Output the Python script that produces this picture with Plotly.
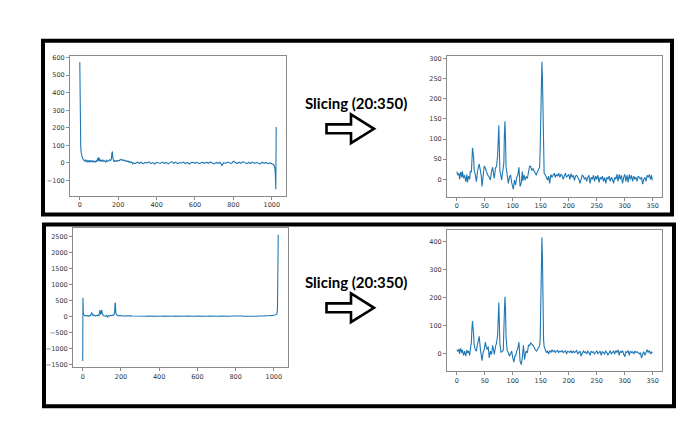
import plotly.graph_objects as go

# ---------------- data ----------------
# top-left: full signal (index, value)
tl_x = [0, 1, 2, 3, 5, 7, 10, 14, 18, 22, 26, 30, 34, 38, 42, 46, 50, 54, 58, 62, 66, 70, 74, 78, 82, 86, 90,
        93, 95, 97, 100, 102, 105, 108, 112, 116, 120, 125, 130, 135, 140, 145, 150, 155, 160, 164, 167, 170,
        172, 174, 177, 180, 185, 190, 195, 200, 205, 210, 215, 220, 225, 230, 235, 240, 245, 250, 255, 260,
        265, 270, 275, 280, 290, 300, 310, 320, 330, 340, 350, 360, 370, 380, 390, 400, 410, 420, 430, 440,
        450, 460, 470, 480, 490, 500, 510, 520, 530, 540, 550, 560, 570, 580, 590, 600, 610, 620, 630, 640,
        650, 660, 670, 680, 690, 700, 710, 720, 730, 740, 750, 760, 770, 780, 790, 800, 810, 820, 830, 840,
        850, 860, 870, 880, 890, 900, 910, 920, 930, 940, 950, 960, 970, 980, 990, 995, 1000, 1005, 1010,
        1014, 1017, 1019, 1020, 1021, 1022, 1023]
tl_y = [575, 150, 170, 120, 90, 60, 40, 28, 20, 15, 10, 16, 8, 14, 6, 12, 4, 15, 8, 12, 4, 14, 6, 10, 5, 12, 8,
        28, 12, 20, 32, 10, 22, 8, 15, 10, 18, 8, 12, 5, 15, 8, 12, 18, 14, 20, 55, 65,
        30, 15, 8, 12, 8, 14, 10, 15, 12, 18, 20, 15, 18, 12, 16, 10, 8, 12, 5, 8,
        2, 5, -5, 0, -3, 5, -2, 4, -5, 3, 0, 6, -4, 2, -6, 4, 0, -3, 5, -2,
        3, -5, 2, 8, -2, 4, -4, 2, 0, 5, -3, 3, -6, 2, 4, -2, 5, -4, 0, 3,
        -3, 4, -2, 6, 0, -5, 3, -2, 4, -14, 2, -3, 5, 0, -4, 10, 2, -3, 4, -2,
        8, 0, -4, 3, -2, 5, -3, 2, 0, -5, 4, -2, 3, -4, 0, -3, -2, -5, -10,
        -20, -40, -80, -100, -150, 40, 205]

# top-right: slice 20:350
tr_x = [0, 2, 4, 5, 7, 9, 10, 12, 14, 16, 18, 19, 21, 23, 24, 26, 27, 28, 30, 31, 33, 35, 37, 39, 40, 42,
        44, 45, 47, 49, 51, 53, 55, 58, 60, 62, 64, 66, 67, 69, 71, 73, 74, 75, 76, 77, 79, 80, 82, 84,
        85, 86, 87, 88, 90, 92, 94, 96, 98, 100, 101, 103, 105, 107, 109, 111, 113, 115, 117, 118, 120,
        122, 124, 126, 128, 130, 132, 134, 136, 138, 140, 142, 144, 146, 148, 149, 151, 152, 153, 154,
        155, 156, 158, 160, 162, 164, 166, 168, 170, 172, 174, 176, 178, 180, 182, 184, 186, 188, 190,
        192, 194, 196, 198, 200, 202, 204, 206, 208, 210, 212, 214, 216, 218, 220, 222, 224, 226, 228,
        230, 232, 234, 236, 238, 240, 242, 244, 246, 248, 250, 252, 254, 256, 258, 260, 262, 264, 266,
        268, 270, 272, 274, 276, 278, 280, 282, 284, 286, 288, 290, 292, 294, 296, 298, 300, 302, 304,
        306, 308, 310, 312, 314, 316, 318, 320, 322, 324, 326, 328, 330, 332, 334, 336, 338, 340, 342,
        344, 346, 348, 349]
tr_y = [19, 10, 15, 0, 18, 5, 20, 3, 10, -6, 12, -8, 8, 0, 20, 18, 45, 78, 55, 23, 12, -6, 20, 34, 38, 23,
        5, -18, 10, 33, 28, 20, 11, 5, -2, 19, 30, 10, 2, 28, 32, 60, 110, 134, 80, 20, 7, -2, 19, 40,
        110, 144, 100, 30, 11, -10, 5, 11, -8, -20, -25, -2, -14, 5, 11, 30, -18, -10, 19, -4, 11,
        -2, 7, 2, 15, 32, 32, 22, 27, 20, 15, 10, 19, 25, 30, 82, 200, 292, 250, 120,
        30, 15, 11, 5, -2, 8, -10, 12, 5, 10, 15, 5, 12, 8, 15, 5, 12, 10, 0,
        8, 15, 5, 10, 12, 0, 14, 5, 10, -3, 8, 10, 5, 0, -10, 5, 10, 8, 0,
        5, -5, 5, 10, -10, 5, 0, 10, -5, 8, 0, 10, -8, 5, 0, 8, -5, 5, -10,
        5, 0, 8, -5, 5, 0, -10, 5, 0, 12, -5, 12, 0, 10, -10, 5, 12, -5, 10,
        -8, 12, 0, 10, -5, 8, 0, 5, -5, 8, 5, 0, 5, -12, 0, 5, -5, 10, 5,
        12, 0, 10, -3]

# bottom-left: full signal
bl_x = [0, 1, 2, 3, 5, 8, 12, 16, 20, 25, 30, 35, 40, 44, 47, 50, 54, 58, 62, 66, 70, 75, 80, 85, 89, 91,
        94, 97, 100, 102, 105, 110, 115, 120, 125, 130, 135, 140, 145, 150, 155, 160, 164, 167, 169, 171,
        173, 176, 180, 185, 190, 195, 200, 210, 220, 230, 240, 250, 260, 270, 280, 290, 300, 310, 320,
        330, 340, 350, 360, 370, 380, 390, 400, 410, 420, 430, 440, 450, 460, 470, 480, 490, 500, 510,
        520, 530, 540, 550, 560, 570, 580, 590, 600, 610, 620, 630, 640, 650, 660, 670, 680, 690, 700,
        710, 720, 730, 740, 750, 760, 770, 780, 790, 800, 810, 820, 830, 840, 850, 860, 870, 880, 890,
        900, 910, 920, 930, 940, 950, 960, 970, 980, 990, 1000, 1005, 1010, 1014, 1017, 1019, 1021, 1023]
bl_y = [-1400, 580, 300, 100, 60, 30, 15, 25, 10, 20, 0, 25, 15, 70, 120, 60, 20, 50, 25, 10, 30, 15, 40, 20, 170, 190,
        60, 150, 200, 70, 40, 20, 10, 0, 30, -30, 20, 10, 30, 20, 40, 30, 50, 150, 420, 400,
        100, 40, 30, 20, 25, 15, 20, 10, 15, 5, 10, 12, 8, 5, 10, 2, 8, 5, 10,
        0, 8, 5, 2, 10, 5, 0, 8, 3, 10, 5, 0, 8, 5, 2, 10, 5, 0, 8,
        5, 3, 10, 5, 0, 8, 5, 2, 10, 5, 0, 8, 5, 3, 10, 5, 0, 8, 5,
        2, 10, 5, 0, 8, 5, 3, 10, 5, 12, 5, 0, 8, 5, 2, 10, 5, 0, 8,
        5, 3, 10, 5, 8, 12, 15, 10, 20, 25, 30, 35, 45, 70, 100, 300, 1200, 2550]

# bottom-right: slice 20:350
br_x = [0, 2, 4, 5, 7, 9, 10, 12, 14, 16, 18, 19, 21, 23, 24, 26, 27, 28, 30, 31, 33, 35, 37, 39, 40, 42,
        43, 45, 47, 49, 51, 53, 55, 56, 58, 60, 62, 64, 66, 67, 69, 71, 73, 74, 75, 76, 77, 79, 81, 83, 85,
        86, 87, 88, 90, 92, 94, 96, 98, 100, 102, 104, 105, 107, 109, 111, 113, 115, 117, 119, 121,
        123, 124, 126, 128, 130, 132, 134, 136, 138, 140, 142, 144, 146, 148, 149, 151, 152, 153, 154,
        155, 156, 158, 160, 162, 164, 166, 168, 170, 172, 174, 176, 178, 180, 182, 184, 186, 188, 190,
        192, 194, 196, 198, 200, 202, 204, 206, 208, 210, 212, 214, 216, 218, 220, 222, 224, 226, 228,
        230, 232, 234, 236, 238, 240, 242, 244, 246, 248, 250, 252, 254, 256, 258, 260, 262, 264, 266,
        268, 270, 272, 274, 276, 278, 280, 282, 284, 286, 288, 290, 292, 294, 296, 298, 300, 302, 304,
        306, 308, 310, 312, 314, 316, 318, 320, 322, 324, 326, 328, 330, 332, 334, 336, 338, 340, 342,
        344, 346, 348, 349]
br_y = [15, 10, 18, 0, 20, 5, 15, -5, 10, -8, 15, 5, 10, -5, 15, 40, 90, 117, 70, 33, 15, 10, 35, 50, 63, 20,
        -2, -24, 5, 16, 42, 20, 16, 27, -14, 10, -2, 31, 10, -2, 25, 39, 70, 140, 183, 110, 35, 6, 10, 12, 150,
        204, 160, 60, 12, 5, -8, 4, 10, -14, -29, -5, -8, 10, 20, 42, -26, -38, -14, 31, -20,
        5, 10, 4, 31, 30, 39, 35, 31, 25, 16, 10, 15, 21, 30, 57, 250, 415, 340, 150,
        50, 27, 12, 5, 10, 0, 12, 5, 15, 8, 12, 5, 10, 12, 5, 10, 8, 12, 5,
        10, 12, 0, 10, 8, 5, 12, 3, 10, 5, 8, 12, 0, 5, 10, -8, 5, 10, 5,
        8, 0, 10, 5, -5, 10, 5, 8, 0, 5, 12, 0, 5, 10, -5, 8, 5, 0, 10,
        5, -5, 8, 12, 0, 5, 10, 0, 12, 5, 15, -5, 10, 5, 12, 0, -10, 8, 5,
        12, -5, 10, 5, 8, 0, 10, 5, 8, 5, 0, 5, -15, 0, 8, -5, 10, 15, 5,
        12, 0, 8, 2]

slice_label = "Slicing (20:350)"

# ---------------- layout helpers ----------------
W, H = 690, 425


def px(x):
    return x / W


def py(y):
    return 1 - y / H


LINE = "#1f77b4"
fig = go.Figure()

panels = [
    (tl_x, tl_y, "x", "y"),
    (tr_x, tr_y, "x2", "y2"),
    (bl_x, bl_y, "x3", "y3"),
    (br_x, br_y, "x4", "y4"),
]
for xs, ys, xa, ya in panels:
    fig.add_trace(go.Scatter(x=xs, y=ys, xaxis=xa, yaxis=ya, mode="lines",
                             line=dict(color=LINE, width=1.1), showlegend=False,
                             hoverinfo="skip"))

tickfont = dict(family="DejaVu Sans", size=6.5, color="#333333")
axis_common = dict(showline=True, linecolor="#8a8a8a", linewidth=1, mirror=True,
                   ticks="outside", ticklen=3, tickwidth=1, tickcolor="#8a8a8a",
                   showgrid=False, zeroline=False, tickfont=tickfont)

# pixel boxes of the four plot areas: (left, right, top, bottom)
boxes = {
    "": (70, 286, 54, 195),
    "2": (447, 662, 54, 196),
    "3": (73, 288, 228, 368),
    "4": (447, 662, 230, 372),
}
xranges = {"": [-51, 1074], "2": [-17.5, 366.5], "3": [-51, 1074], "4": [-17.5, 366.5]}
yranges = {"": [-186, 611], "2": [-43, 307], "3": [-1597, 2747], "4": [-62, 440]}
xdt = {"": 200, "2": 50, "3": 200, "4": 50}
ydt = {"": 100, "2": 50, "3": 500, "4": 100}

lay = {}
for k, (l, r, t, b) in boxes.items():
    lay["xaxis" + k] = dict(axis_common, domain=[px(l), px(r)], range=xranges[k], dtick=xdt[k],
                            tick0=0, anchor="y" + k)
    lay["yaxis" + k] = dict(axis_common, domain=[py(b), py(t)], range=yranges[k], dtick=ydt[k],
                            tick0=0, anchor="x" + k)

shapes = []
# outer black frames
for (l, r, t, b) in [(43, 672, 39, 214), (44, 674, 224, 407)]:
    shapes.append(dict(type="rect", xref="paper", yref="paper", x0=px(l), x1=px(r), y0=py(b), y1=py(t),
                       line=dict(color="black", width=4), fillcolor="rgba(0,0,0,0)", layer="above"))


# hollow arrows
def arrow_path(cy):
    pts = [(326.5, cy - 4.5), (351, cy - 4.5), (351, cy - 14.5), (374, cy), (351, cy + 14.5),
           (351, cy + 4.5), (326.5, cy + 4.5)]
    return "M " + " L ".join(f"{px(x):.5f},{py(y):.5f}" for x, y in pts) + " Z"


for cy in (127.7, 308):
    shapes.append(dict(type="path", xref="paper", yref="paper", path=arrow_path(cy),
                       line=dict(color="black", width=2.6), fillcolor="white"))

annotations = []
for cy in (101.5, 282):
    annotations.append(dict(x=px(356), y=py(cy), xref="paper", yref="paper", text="<b>" + slice_label + "</b>",
                            showarrow=False, xanchor="center", yanchor="middle",
                            font=dict(family="Lato", size=15, color="black")))

fig.update_layout(width=W, height=H, margin=dict(l=0, r=0, t=0, b=0),
                  paper_bgcolor="white", plot_bgcolor="white",
                  shapes=shapes, annotations=annotations, **lay)

fig.write_html("out.html")
